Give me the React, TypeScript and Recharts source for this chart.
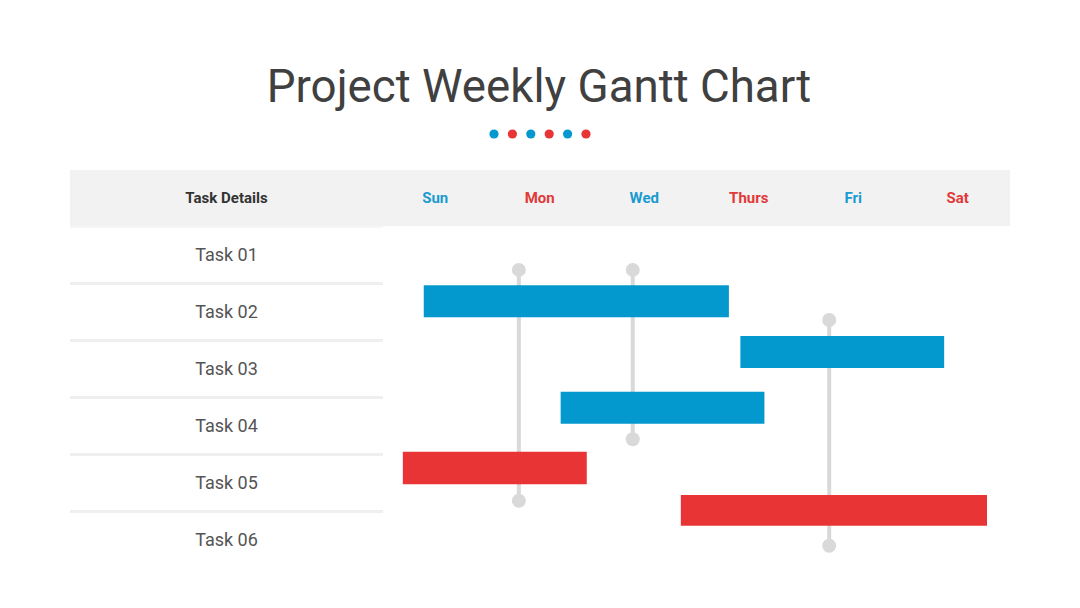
import React from 'react';
import { ComposedChart, XAxis, YAxis, ReferenceArea, ReferenceLine, Scatter } from 'recharts';

// ---- data ----
const days = ['Sun', 'Mon', 'Wed', 'Thurs', 'Fri', 'Sat'];
const tasks = ['Task 01', 'Task 02', 'Task 03', 'Task 04', 'Task 05', 'Task 06'];

const barTask = ['Task 02', 'Task 03', 'Task 04', 'Task 05', 'Task 06'];
const barGroup = ['blue', 'blue', 'blue', 'red', 'red'];
const barStart = [0.39, 3.42, 1.70, 0.19, 2.85];
const barEnd = [3.31, 5.37, 3.65, 1.95, 5.78];
const barTop = [1.04, 1.93, 2.91, 3.96, 4.72];
const barBottom = [1.60, 2.49, 3.47, 4.53, 5.26];

const linkX = [1.30, 2.39, 4.27];
const linkFrom = [0.77, 0.77, 1.65];
const linkTo = [4.82, 3.74, 5.61];

// ---- styles ----
const BLUE = '#0399CE';
const RED = '#E83434';
const GREY = '#D9D9D9';
const FONT = 'Roboto, "Noto Sans", sans-serif';
const groupColor = (g: string) => (g === 'blue' ? BLUE : RED);
const dayColor = (i: number) => (i % 2 === 0 ? '#1A9BD0' : '#E03A3A');

const endpoints = linkX.flatMap((x, i) => [
  { x, y: linkFrom[i] },
  { x, y: linkTo[i] },
]);

const dayTicks = days.map((_, i) => i + 0.5);
const taskTicks = tasks.map((_, i) => i + 0.5);

const DayTick = (props: any) => {
  const { x, index } = props;
  return (
    <text x={x} y={28} textAnchor="middle" dominantBaseline="central" fontFamily={FONT}
      fontWeight={700} fontSize={15} fill={dayColor(index)}>
      {days[index]}
    </text>
  );
};

const TaskTick = (props: any) => {
  const { y, index } = props;
  return (
    <text x={156.5} y={y} textAnchor="middle" dominantBaseline="central" fontFamily={FONT}
      fontSize={18} fill="#555555">
      {tasks[index]}
    </text>
  );
};

const Dot = (props: any) => <circle cx={props.cx} cy={props.cy} r={7} fill={GREY} />;

export default function App() {
  const sepY = [282, 339, 396, 453, 510];
  return (
    <div style={{ position: 'absolute', left: 0, top: 0, width: 1080, height: 608, background: '#fff', overflow: 'hidden' }}>
      <svg width={1080} height={608} style={{ position: 'absolute', left: 0, top: 0 }}>
        <text x={539} y={102} textAnchor="middle" fontFamily={FONT} fontSize={45.7} fill="#404040">
          Project Weekly Gantt Chart
        </text>
        {[0, 1, 2, 3, 4, 5].map((i) => (
          <circle key={i} cx={494 + i * 18.4} cy={134} r={4.6} fill={i % 2 === 0 ? BLUE : RED} />
        ))}
        <rect x={70} y={170} width={940} height={56} fill="#F2F2F2" />
        <rect x={70} y={226} width={313} height={2} fill="#F6F6F6" />
        <text x={226.5} y={198} textAnchor="middle" dominantBaseline="central" fontFamily={FONT}
          fontWeight={700} fontSize={15} fill="#333333">
          Task Details
        </text>
        {sepY.map((y) => (
          <rect key={y} x={70} y={y} width={313} height={3} fill="#EFEFEF" />
        ))}
      </svg>
      <div style={{ position: 'absolute', left: 70, top: 170 }}>
        <ComposedChart width={940} height={398} data={endpoints} margin={{ top: 0, right: 0, bottom: 0, left: 0 }}>
          <XAxis type="number" dataKey="x" domain={[0, 6]} ticks={dayTicks} orientation="top" height={56}
            axisLine={false} tickLine={false} tick={<DayTick />} interval={0} allowDataOverflow />
          <YAxis type="number" dataKey="y" domain={[0, 6]} ticks={taskTicks} reversed width={313}
            axisLine={false} tickLine={false} tick={<TaskTick />} interval={0} allowDataOverflow />
          {linkX.map((x, i) => (
            <ReferenceLine key={'l' + i} segment={[{ x, y: linkFrom[i] }, { x, y: linkTo[i] }]}
              stroke={GREY} strokeWidth={4} ifOverflow="visible" zIndex={50} />
          ))}
          {barTask.map((t, i) => (
            <ReferenceArea key={t} x1={barStart[i]} x2={barEnd[i]} y1={barTop[i]} y2={barBottom[i]}
              fill={groupColor(barGroup[i])} fillOpacity={1} stroke="none" ifOverflow="visible" zIndex={500} />
          ))}
          <Scatter data={endpoints} dataKey="y" shape={<Dot />} isAnimationActive={false} zIndex={60} />
        </ComposedChart>
      </div>
    </div>
  );
}
